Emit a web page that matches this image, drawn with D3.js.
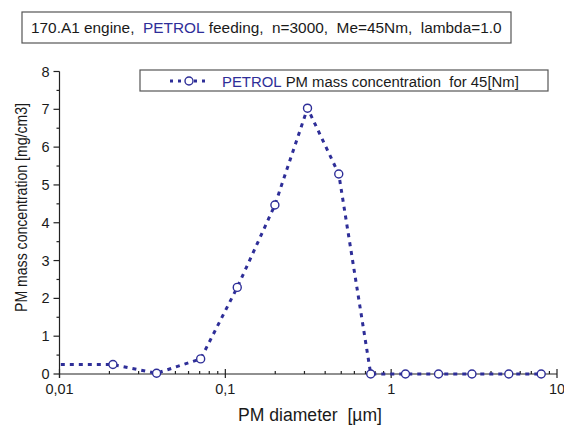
<!DOCTYPE html>
<html>
<head>
<meta charset="utf-8">
<script src="https://cdn.jsdelivr.net/npm/d3@7"></script>
<style>
  body { margin: 0; background: #fff; }
  text { font-family: "Liberation Sans", Arial, sans-serif; fill: #1a1a1a; }
</style>
</head>
<body>
<div id="chart"></div>
<script>
// PM diameter [um] and mass concentration [mg/cm3]
const diameters = [0.007, 0.021, 0.0385, 0.071, 0.118, 0.199, 0.313, 0.483, 0.753, 1.22, 1.93, 3.07, 5.12, 8.03];
const concentrations = [0.25, 0.25, 0.02, 0.40, 2.29, 4.47, 7.03, 5.29, 0.0, 0.0, 0.0, 0.0, 0.0, 0.0];
const xTicks = [0.01, 0.1, 1, 10];
const xTickLabels = ['0,01', '0,1', '1', '10'];
const yTicks = [0, 1, 2, 3, 4, 5, 6, 7, 8];

const blue = '#2e2e98';
const width = 564;
const height = 425;
const plot = { left: 59.5, right: 557, top: 71.5, bottom: 374 };

const data = diameters.map((d, i) => ({ x: d, y: concentrations[i] }));

const x = d3.scaleLog()
  .domain([0.01, 10])
  .range([plot.left, plot.right]);

const y = d3.scaleLinear()
  .domain([0, 8])
  .range([plot.bottom, plot.top]);

const svg = d3.select('#chart').append('svg')
  .attr('width', width)
  .attr('height', height);

svg.append('defs').append('clipPath')
  .attr('id', 'plot-clip')
  .append('rect')
  .attr('x', plot.left)
  .attr('y', plot.top - 10)
  .attr('width', plot.right - plot.left + 10)
  .attr('height', plot.bottom - plot.top + 20);

// lays coloured pieces of one line side by side, sized to fit a given width
const textRow = (parent, x0, y0, size, fitWidth, pieces) => {
  const g = parent.append('g');
  const texts = pieces.map((p) => g.append('text')
    .attr('y', y0)
    .style('fill', p.color || '#1a1a1a')
    .text(p.text));
  const layout = (s) => {
    let cx = x0;
    texts.forEach((t) => {
      t.attr('x', cx).attr('font-size', s);
      cx += t.node().getComputedTextLength();
    });
    return cx - x0;
  };
  const total = layout(size);
  if (total > fitWidth) layout(size * fitWidth / total);
};

// title box
svg.append('rect')
  .attr('x', 22)
  .attr('y', 12)
  .attr('width', 489)
  .attr('height', 31)
  .attr('fill', 'none')
  .attr('stroke', '#555')
  .attr('stroke-width', 1.2);

textRow(svg, 31, 33, 16, 471, [
  { text: '170.A1 engine,\u00a0\u00a0' },
  { text: 'PETROL', color: blue },
  { text: '\u00a0feeding,\u00a0\u00a0n=3000,\u00a0\u00a0Me=45Nm,\u00a0\u00a0lambda=1.0' }
]);

// y axis: major ticks outward, minor ticks at halves
const yAxis = svg.append('g').attr('class', 'y axis');
yAxis.append('line')
  .attr('x1', plot.left).attr('x2', plot.left)
  .attr('y1', y(8)).attr('y2', y(0) + 4)
  .attr('stroke', '#222').attr('stroke-width', 1.2);
yAxis.selectAll('.major')
  .data(yTicks)
  .enter().append('line')
  .attr('x1', plot.left - 6).attr('x2', plot.left)
  .attr('y1', (d) => y(d)).attr('y2', (d) => y(d))
  .attr('stroke', '#222').attr('stroke-width', 1.2);
yAxis.selectAll('.minor')
  .data(yTicks.slice(0, -1).map((d) => d + 0.5))
  .enter().append('line')
  .attr('x1', plot.left - 3).attr('x2', plot.left)
  .attr('y1', (d) => y(d)).attr('y2', (d) => y(d))
  .attr('stroke', '#222').attr('stroke-width', 1.2);
yAxis.selectAll('text')
  .data(yTicks)
  .enter().append('text')
  .attr('x', plot.left - 10)
  .attr('y', (d) => y(d) + 5)
  .attr('text-anchor', 'end')
  .attr('font-size', 14.5)
  .text((d) => d);

// x axis: log decades, minor ticks pointing up
const minorX = [];
[0.01, 0.1, 1].forEach((dec) => {
  for (let k = 2; k <= 9; k++) minorX.push(dec * k);
});
const xAxis = svg.append('g').attr('class', 'x axis');
xAxis.append('line')
  .attr('x1', plot.left).attr('x2', plot.right)
  .attr('y1', plot.bottom).attr('y2', plot.bottom)
  .attr('stroke', '#222').attr('stroke-width', 1.2);
xAxis.selectAll('.major')
  .data(xTicks)
  .enter().append('line')
  .attr('x1', (d) => x(d)).attr('x2', (d) => x(d))
  .attr('y1', plot.bottom - 5).attr('y2', plot.bottom + 4)
  .attr('stroke', '#222').attr('stroke-width', 1.2);
xAxis.selectAll('.minor')
  .data(minorX)
  .enter().append('line')
  .attr('x1', (d) => x(d)).attr('x2', (d) => x(d))
  .attr('y1', plot.bottom - 3).attr('y2', plot.bottom)
  .attr('stroke', '#222').attr('stroke-width', 1.2);
xAxis.selectAll('text')
  .data(xTicks)
  .enter().append('text')
  .attr('x', (d) => x(d))
  .attr('y', plot.bottom + 20)
  .attr('text-anchor', 'middle')
  .attr('font-size', 14.5)
  .text((d, i) => xTickLabels[i]);

// axis titles
svg.append('text')
  .attr('x', 238)
  .attr('y', 421)
  .attr('font-size', 18)
  .attr('textLength', 144)
  .attr('lengthAdjust', 'spacingAndGlyphs')
  .text('PM diameter\u00a0\u00a0[\u00b5m]');

svg.append('text')
  .attr('transform', 'translate(27, 312) rotate(-90)')
  .attr('font-size', 17)
  .attr('textLength', 209)
  .attr('lengthAdjust', 'spacingAndGlyphs')
  .text('PM mass concentration [mg/cm3]');

// series
const line = d3.line()
  .x((d) => x(d.x))
  .y((d) => y(d.y));

const series = svg.append('g').attr('clip-path', 'url(#plot-clip)');
series.append('path')
  .datum(data)
  .attr('fill', 'none')
  .attr('stroke', blue)
  .attr('stroke-width', 3)
  .attr('stroke-dasharray', '4,5')
  .attr('d', line);

series.selectAll('.dot')
  .data(data)
  .enter()
  .append('circle')
  .attr('r', 4)
  .attr('fill', '#fff')
  .attr('stroke', blue)
  .attr('stroke-width', 1.4)
  .attr('cx', (d) => x(d.x))
  .attr('cy', (d) => y(d.y));

// legend
const legend = svg.append('g').attr('class', 'legend');
legend.append('rect')
  .attr('x', 140)
  .attr('y', 70)
  .attr('width', 408)
  .attr('height', 21)
  .attr('fill', '#fff')
  .attr('stroke', '#555')
  .attr('stroke-width', 1.2);
legend.append('line')
  .attr('x1', 170).attr('x2', 208)
  .attr('y1', 81).attr('y2', 81)
  .attr('stroke', blue)
  .attr('stroke-width', 3)
  .attr('stroke-dasharray', '3,5');
legend.append('circle')
  .attr('cx', 189).attr('cy', 81).attr('r', 4)
  .attr('fill', '#fff')
  .attr('stroke', blue)
  .attr('stroke-width', 1.4);
textRow(legend, 222, 87, 15.5, 297, [
  { text: 'PETROL', color: blue },
  { text: '\u00a0PM mass concentration\u00a0\u00a0for 45[Nm]' }
]);
</script>
</body>
</html>
